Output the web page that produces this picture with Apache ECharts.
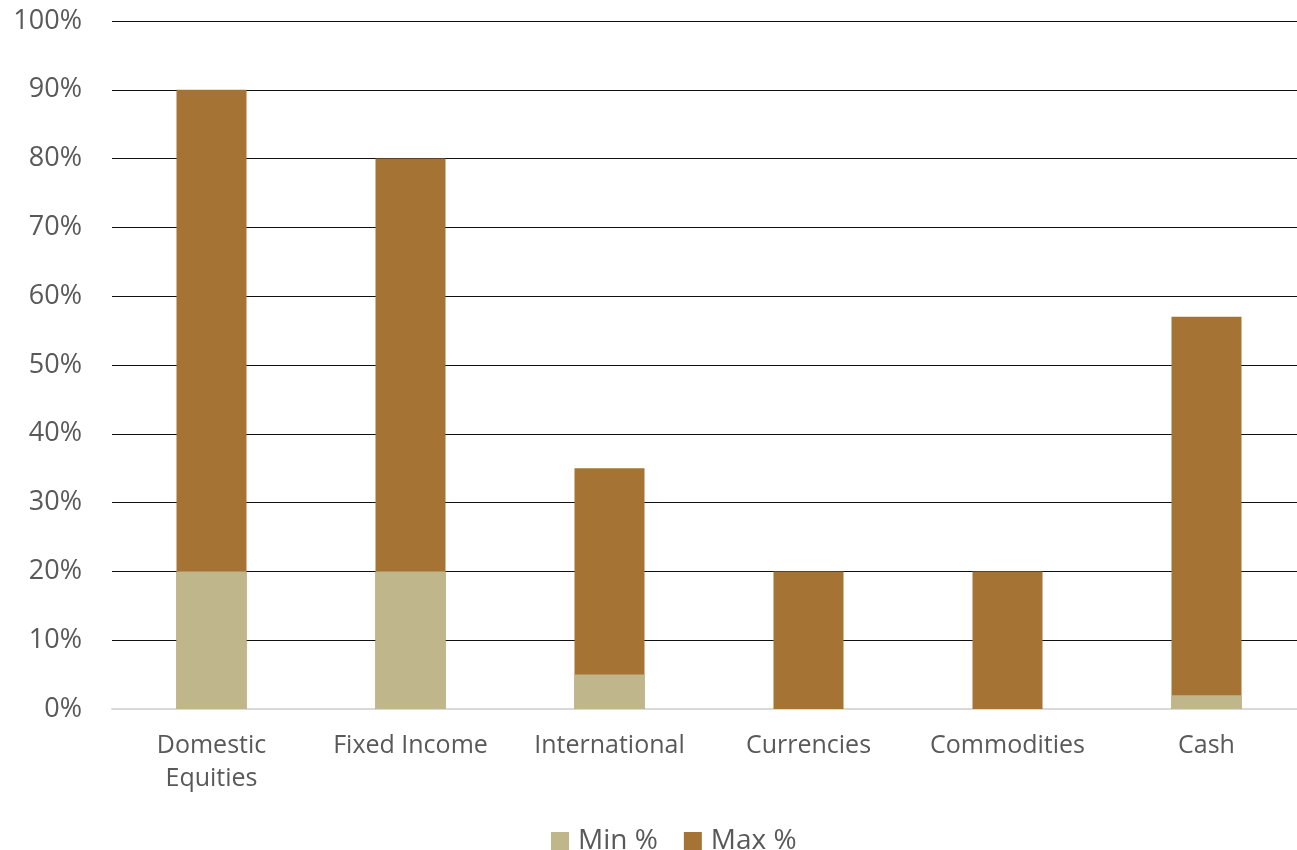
<!DOCTYPE html>
<html><head><meta charset="utf-8">
<script src="https://cdn.jsdelivr.net/npm/echarts@6/dist/echarts.min.js"></script>
<style>html,body{margin:0;padding:0;background:#fff}#c{width:1297px;height:850px}</style>
</head><body><div id="c"></div>
<script>
const categories = ['Domestic\nEquities', 'Fixed Income', 'International', 'Currencies', 'Commodities', 'Cash'];
const minPct = [20, 20, 5, 0, 0, 2];
const maxPct = [90, 80, 35, 20, 20, 57];
const yTicks = [0, 10, 20, 30, 40, 50, 60, 70, 80, 90, 100];

const font = '"Open Sans", "Noto Sans", sans-serif';
const chart = echarts.init(document.getElementById('c'));
chart.setOption({
  animation: false,
  grid: { left: 112, width: 1194, top: 21, bottom: 141, containLabel: false, outerBoundsMode: 'none' },
  legend: {
    data: ['Min %', 'Max %'], top: 822, left: 546, itemWidth: 18, itemHeight: 18, itemGap: 26,
    icon: 'rect',
    textStyle: { fontFamily: font, fontSize: 28, color: '#595959', padding: [0, 0, 0, 4] }
  },
  xAxis: {
    type: 'category', data: categories,
    axisLine: { lineStyle: { color: '#d9d9d9', width: 2 } },
    axisTick: { show: false },
    axisLabel: { interval: 0, fontFamily: font, fontSize: 25, color: '#595959', margin: 20, lineHeight: 33 }
  },
  yAxis: {
    type: 'value', min: yTicks[0], max: yTicks[yTicks.length - 1], interval: 10,
    axisLine: { show: false }, axisTick: { show: false },
    splitLine: { lineStyle: { color: '#111', width: 1.2 } },
    axisLabel: { fontFamily: font, fontSize: 27, color: '#595959', margin: 30, formatter: v => v + '%' }
  },
  series: [
    { name: 'Max %', type: 'bar', data: maxPct, barWidth: 70, barGap: '-100%', z: 2,
      itemStyle: { color: '#a57333' } },
    { name: 'Min %', type: 'bar', data: minPct, barWidth: 70, barGap: '-100%', z: 3,
      itemStyle: { color: '#bfb68c' } }
  ]
});
</script></body></html>
